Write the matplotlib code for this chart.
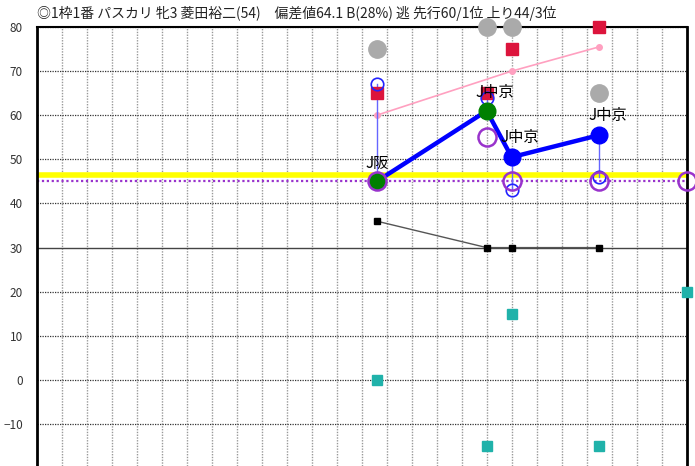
import matplotlib
matplotlib.use("Agg")
import matplotlib.pyplot as plt

plt.rcParams['font.family'] = ['Noto Sans CJK JP', 'DejaVu Sans']

title = "◎1枠1番 パスカリ 牝3 菱田裕二(54)　偏差値64.1 B(28%) 逃 先行60/1位 上り44/3位"

# race positions (grid units)
race_x = [13.6, 18, 19, 22.5]
main_y = [45, 61, 50.5, 55.5]
main_colors = ["green", "green", "blue", "blue"]
course_labels = ["J阪", "J中京", "J中京", "J中京"]

gray_y = [75, 80, 80, 65]
red_y = [65, 65, 75, 80]
pink_x = [13.6, 19, 22.5]
pink_y = [60, 70, 75.5]
blue_open_y = [67, 64, 43, 46]
purple_x = [13.6, 18, 19, 22.5, 26]
purple_y = [45, 55, 45, 45, 45]
black_y = [36, 30, 30, 30]
teal_x = [13.6, 18, 19, 22.5, 26]
teal_y = [0, -15, 15, -15, 20]

yellow_level = 46.5
purple_level = 45
ref_level = 30
yticks = [80, 70, 60, 50, 40, 30, 20, 10, 0, -10]

fig = plt.figure(figsize=(6.95, 4.66), dpi=100)
ax = fig.add_axes([36.7/695, 0, 650/695, 1 - 27/466])
ax.set_xlim(0, 26)
ax.set_ylim(-19.5, 80)

# grid
for xv in range(1, 26):
    ax.axvline(xv, color="#999999", lw=1.0, ls=(0, (1, 1)), zorder=1)
for yv in yticks:
    if yv == ref_level:
        continue
    ax.axhline(yv, color="#333333", lw=0.9, ls=(0, (1, 1)), zorder=1)
ax.axhline(ref_level, color="#444444", lw=1.0, zorder=1)

ax.axhline(yellow_level, color="#ffff00", lw=4.0, zorder=2)
ax.axhline(purple_level, color="#9933cc", lw=1.6, ls=(0, (1, 1.2)), zorder=2)

# black line
ax.plot(race_x, black_y, color="#555555", lw=1.0, zorder=3)
ax.plot(race_x, black_y, ls="none", marker="s", ms=5, color="black", zorder=6)

# teal squares
ax.plot(teal_x, teal_y, ls="none", marker="s", ms=7, color="#20b2aa", zorder=6, clip_on=False)

# pink line
ax.plot(pink_x, pink_y, color="#ffa0c0", lw=1.2, marker="o", ms=4, zorder=3)

# thin blue vertical lines
for xv, yt, yb in zip(race_x, main_y, blue_open_y):
    ax.plot([xv, xv], [yt, yb], color="#6666ff", lw=1.0, zorder=3)

# gray circles
ax.plot(race_x, gray_y, ls="none", marker="o", ms=12.5, color="#aaaaaa", zorder=5, clip_on=False)
# red squares
ax.plot(race_x, red_y, ls="none", marker="s", ms=8, color="#dc143c", zorder=5, clip_on=False)
# blue open circles
ax.plot(race_x, blue_open_y, ls="none", marker="o", ms=9, mfc="none", mec="#2222ff", mew=1.2, zorder=6)

# main blue line
ax.plot(race_x, main_y, color="#0000ff", lw=3.2, zorder=7)
for xv, yv, c in zip(race_x, main_y, main_colors):
    ax.plot(xv, yv, marker="o", ms=12, color=c, zorder=8)

# purple open circles
ax.plot(purple_x, purple_y, ls="none", marker="o", ms=13, mfc="none", mec="#9933cc", mew=1.8, zorder=9, clip_on=False)

# labels
offsets = [(0, 13), (6, 13), (6, 14), (6, 14)]
for (xv, yv, lab, off) in zip(race_x, main_y, course_labels, offsets):
    ax.annotate(lab, (xv, yv), xytext=off, textcoords="offset points",
                ha="center", va="center", fontsize=11, color="black", zorder=10)

ax.set_xticks([])
ax.set_yticks(yticks)
ax.tick_params(axis="y", length=0, labelsize=8.5, labelcolor="#333333", pad=10)
for s in ["left", "right"]:
    ax.spines[s].set_linewidth(2.0)
ax.spines["top"].set_linewidth(1.5)
ax.spines["bottom"].set_visible(False)

fig.text(37/695, 1 - 13/466, title, ha="left", va="center", fontsize=10, color="#222222")

fig.savefig("out.png", dpi=100)
